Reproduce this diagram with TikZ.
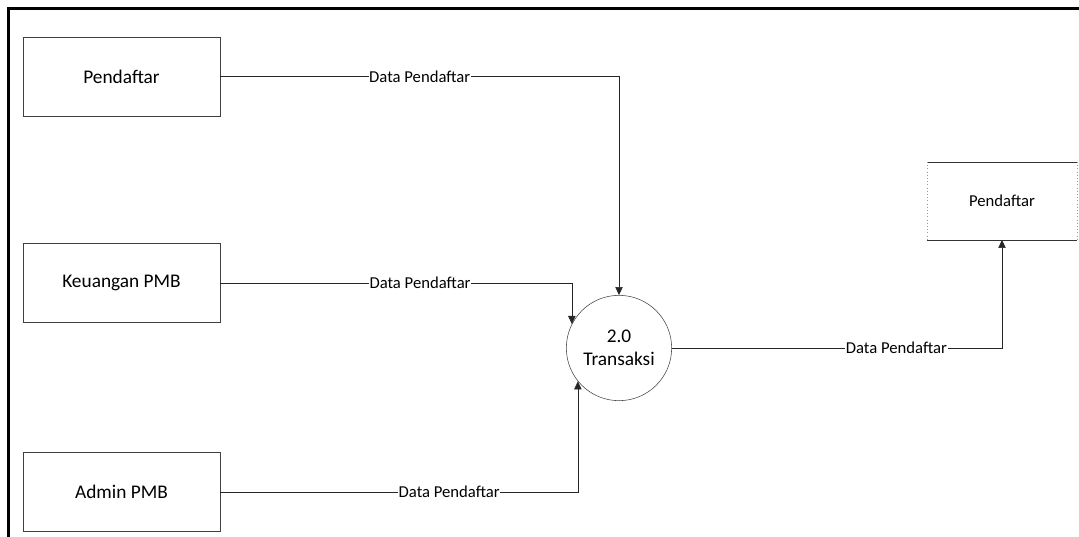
\documentclass[tikz,border=0pt]{standalone}
\usepackage{fontspec}
\setmainfont{Carlito}
\usetikzlibrary{arrows.meta, positioning}
\tikzstyle{entity} = [rectangle, minimum width=148pt, minimum height=59pt, text centered, draw=black!75, font=\fontsize{14.5}{17}\selectfont]
\tikzstyle{process} = [circle, minimum size=79pt, inner sep=0pt, align=center, draw=black!75, font=\fontsize{14.5}{17}\selectfont]
\tikzstyle{store} = [rectangle, minimum width=112pt, minimum height=58pt, text centered, font=\fontsize{12.5}{15}\selectfont]
\tikzstyle{flow} = [draw=black!85, -{Triangle[length=6pt,width=5.5pt]}]
\tikzstyle{flowlabel} = [fill=white, inner sep=0.5pt, font=\fontsize{12.5}{15}\selectfont]

\begin{document}
\begin{tikzpicture}[x=0.75pt, y=-0.75pt]
        \useasboundingbox (0,0) rectangle (1079,536);
        % Frame
        \draw [line width=2.4pt] (8.5,560) -- (8.5,8.5) -- (1100,8.5);

        % External entities
        \node (pendaftar) [entity] at (121.5,76.5) {Pendaftar};
        \node (keuangan) [entity] at (121.5,283) {Keuangan PMB};
        \node (admin) [entity] at (121.5,492) {Admin PMB};

        % Process
        \node (transaksi) [process] at (619,348) {2.0\\Transaksi};

        % Data store
        \node (storePendaftar) [store] at (1002,201) {Pendaftar};
        \draw [black!80] (storePendaftar.north west) -- (storePendaftar.north east);
        \draw [black!80] (storePendaftar.south west) -- (storePendaftar.south east);
        \draw [black!40, dotted] (storePendaftar.north west) -- (storePendaftar.south west);
        \draw [black!40, dotted] (storePendaftar.north east) -- (storePendaftar.south east);

        % Flows
        \draw [flow] (pendaftar.east) -| node[flowlabel, pos=0.25] {Data Pendaftar} (transaksi.north);
        \draw [flow] (keuangan.east) -| node[flowlabel, pos=0.284] {Data Pendaftar} (transaksi.153);
        \draw [flow] (admin.east) -| node[flowlabel, pos=0.32] {Data Pendaftar} (transaksi.-141);
        \draw [flow] (transaksi.east) -| node[flowlabel, pos=0.34] {Data Pendaftar} (storePendaftar.south);
    \end{tikzpicture}
\end{document}
